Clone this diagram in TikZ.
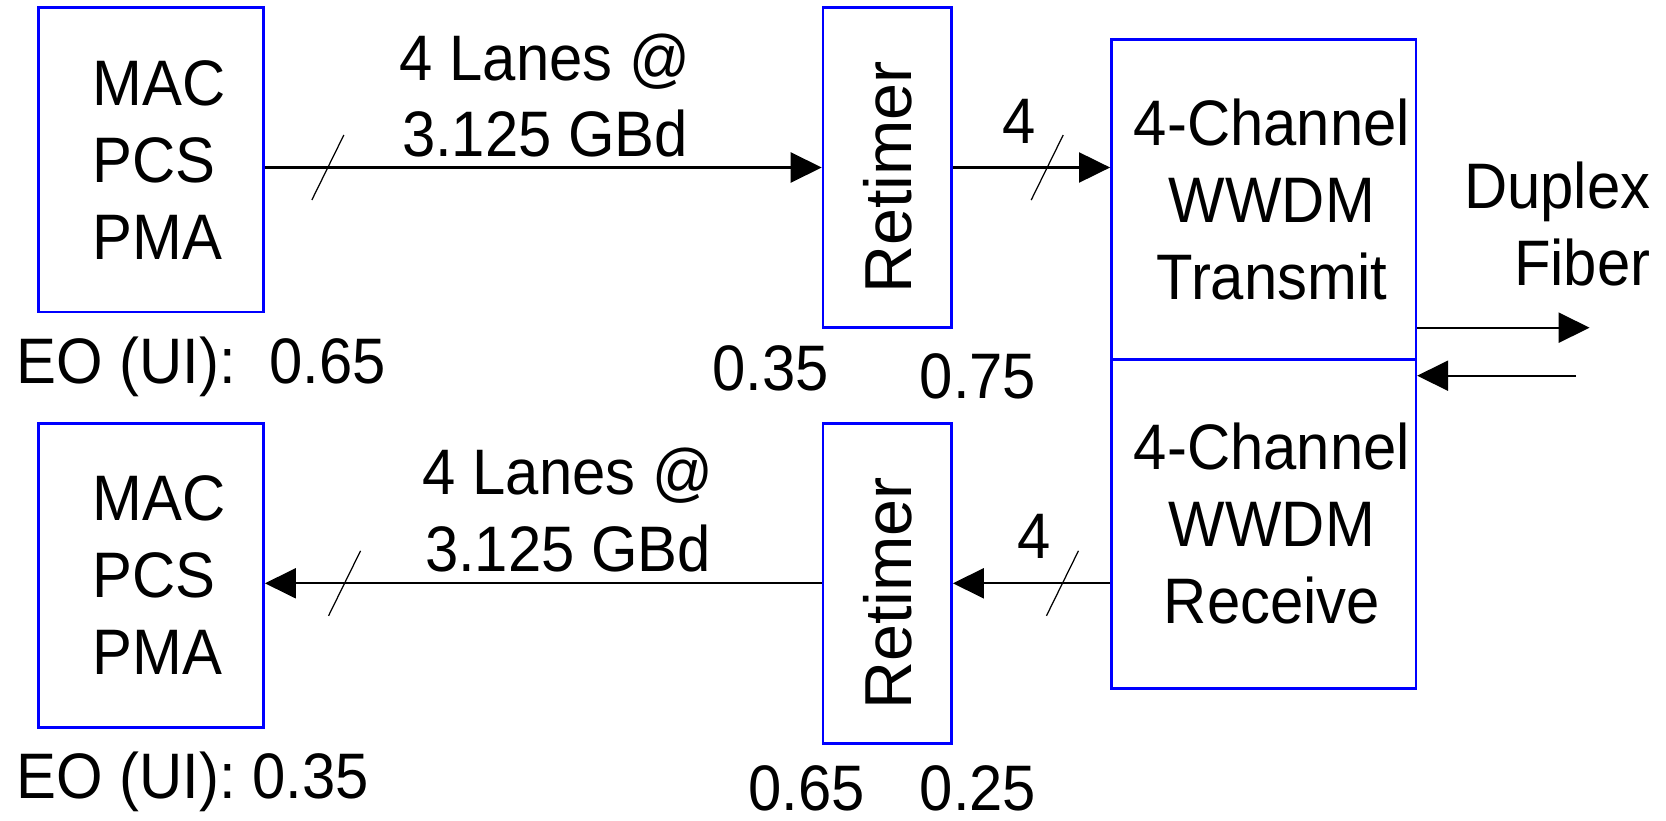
\documentclass[tikz,border=0pt]{standalone}
\usepackage{fontspec}
\setmainfont[FakeStretch=0.93]{Liberation Sans}
\newfontfamily\retfont{Liberation Sans}
\usetikzlibrary{positioning,arrows.meta}

\newcommand{\rettext}{\rotatebox{90}{\retfont\fontsize{18.9}{22}\selectfont Retimer\hspace{0.2cm}}}

\begin{document}
\begin{tikzpicture}[font=\fontsize{18.3}{21.9}\selectfont,
 b/.style={draw=blue,line width=0.75pt,inner sep=0pt},
 a/.style={-{Triangle[length=3.1mm,width=3mm]},line width=0.6pt},
 sl/.style={line width=0.35pt},
 t/.style={inner sep=0pt,align=center}]
\useasboundingbox (0,0) rectangle (16.66,-8.20);
\node[b,minimum width=2.25cm,minimum height=3.047cm,text width=1.17cm,align=left] (mac1) at (1.511,-1.597) {MAC\\PCS\\PMA};
\node[b,minimum width=1.285cm,minimum height=3.204cm] (ret1) at (8.873,-1.675) {\rettext};
\node[b,minimum width=3.044cm,minimum height=3.20cm,align=center] (tx) at (12.636,-1.993) {\ 4-Channel\\\ WWDM\\\ Transmit};
\node[b,minimum width=3.044cm,minimum height=3.29cm,align=center] (rx) at (12.636,-5.238) {\ 4-Channel\\\ WWDM\\\ Receive};
\node[b,minimum width=2.25cm,minimum height=3.044cm,text width=1.17cm,align=left] (mac2) at (1.511,-5.755) {MAC\\PCS\\PMA};
\node[b,minimum width=1.285cm,minimum height=3.20cm] (ret2) at (8.873,-5.833) {\rettext};
\node[t] (lanes1) at (5.45,-0.955) {4 Lanes @\\3.125 GBd};
\node[t] (lanes2) at (5.68,-5.10) {4 Lanes @\\3.125 GBd};
\node[t] (n1) at (10.187,-1.215) {4};
\node[t] (n2) at (10.34,-5.36) {4};
\node[t,align=right,anchor=east] (fib) at (16.51,-2.24) {Duplex\\Fiber};
\node[t,anchor=base west] (eo1) at (0.16,-3.83) {EO (UI):\ \ 0.65};
\node[t,anchor=base west] (v1) at (7.12,-3.90) {0.35};
\node[t,anchor=base] (v2) at (9.78,-3.98) {0.75};
\node[t,anchor=base west] (eo2) at (0.16,-7.98) {EO (UI): 0.35};
\node[t,anchor=base west] (v3) at (7.48,-8.10) {0.65};
\node[t,anchor=base] (v4) at (9.78,-8.10) {0.25};
\coordinate (fo) at (15.896,-3.277);
\coordinate (fi) at (15.76,-3.757);
% transmit side
\draw[a] (ret1.west -| mac1.east) -- coordinate[pos=0.113] (s1) (ret1.west);
\draw[a] (ret1.east) -- coordinate[pos=0.6] (s2) (ret1.east -| tx.west);
\draw[a] (fo -| tx.east) -- (fo);
% receive side
\draw[a] (fi) -- (fi -| rx.east);
\draw[a] (ret2.east -| rx.west) -- coordinate[pos=0.303] (s3) (ret2.east);
\draw[a] (ret2.west) -- coordinate[pos=0.857] (s4) (ret2.west -| mac2.east);
\foreach \s in {s1,s2,s3,s4}
 \draw[sl] ([shift={(-0.16,-0.325)}]\s) -- ([shift={(0.16,0.325)}]\s);
\end{tikzpicture}
\end{document}
